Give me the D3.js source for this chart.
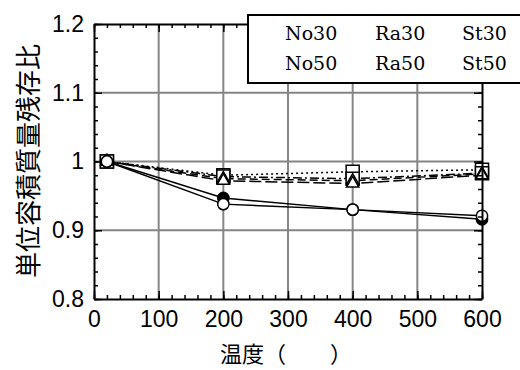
<!DOCTYPE html>
<html>
<head>
<meta charset="utf-8">
<script src="https://cdn.jsdelivr.net/npm/d3@7"></script>
<style>body{margin:0;background:#fff}</style>
</head>
<body>
<svg id="chart"></svg>
<script>
// temperature (C) and residual ratio per mix
var temps = [20, 200, 400, 600];
var no30 = [1, 0.938, 0.930, 0.921];
var no50 = [1, 0.947, 0.930, 0.916];
var ra30 = [1, 0.975, 0.972, 0.982];
var ra50 = [1, 0.972, 0.968, 0.980];
var st30 = [1, 0.980, 0.985, 0.988];
var st50 = [1, 0.978, 0.975, 0.983];
var legendRow1 = ["No30", "Ra30", "St30"];
var legendRow2 = ["No50", "Ra50", "St50"];
var xTicks = [0, 100, 200, 300, 400, 500, 600];
var yTicks = [0.8, 0.9, 1, 1.1, 1.2];

function drawChart() {
    var W = 520, H = 370;
    var left = 94, right = 482, mTop = 24, bottom = 299;

    var svg = d3.select("#chart").attr("width", W).attr("height", H);

    var x = d3.scaleLinear().domain([0, 600]).range([left, right]);
    var y = d3.scaleLinear().domain([0.8, 1.2]).range([bottom, mTop]);

    // grid
    var grid = svg.append("g").attr("stroke", "#858585").attr("stroke-width", 2);
    grid.selectAll(".gx").data(xTicks.slice(1, -1)).enter().append("line")
        .attr("x1", function(d) { return x(d); }).attr("x2", function(d) { return x(d); })
        .attr("y1", mTop).attr("y2", bottom);
    grid.selectAll(".gy").data(yTicks.slice(1, -1)).enter().append("line")
        .attr("y1", function(d) { return y(d); }).attr("y2", function(d) { return y(d); })
        .attr("x1", left).attr("x2", right);

    var series = [
        {name: "St30", vals: st30, dash: "2,3", sym: d3.symbolSquare, size: 170, fill: "#fff"},
        {name: "St50", vals: st50, dash: "9,3,2,3", sym: d3.symbolSquare, size: 170, fill: "#fff"},
        {name: "Ra30", vals: ra30, dash: "8,4", sym: d3.symbolTriangle, size: 65, fill: "#fff"},
        {name: "Ra50", vals: ra50, dash: "12,4", sym: d3.symbolTriangle, size: 65, fill: "#fff"},
        {name: "No50", vals: no50, dash: null, sym: d3.symbolCircle, size: 100, fill: "#000"},
        {name: "No30", vals: no30, dash: null, sym: d3.symbolCircle, size: 100, fill: "#fff"}
    ];

    var line = d3.line()
        .x(function(d, i) { return x(temps[i]); })
        .y(function(d) { return y(d); });

    series.forEach(function(s) {
        svg.append("path")
            .attr("d", line(s.vals))
            .attr("fill", "none")
            .attr("stroke", "#000")
            .attr("stroke-width", 1.5)
            .attr("stroke-dasharray", s.dash);
    });
    series.forEach(function(s) {
        svg.selectAll(".m" + s.name).data(s.vals).enter().append("path")
            .attr("d", d3.symbol().type(s.sym).size(s.size))
            .attr("transform", function(d, i) { return "translate(" + x(temps[i]) + "," + y(d) + ")"; })
            .attr("fill", s.fill)
            .attr("stroke", "#000")
            .attr("stroke-width", 1.5);
    });

    // axes, ticks pointing inward
    function styleAxis(g) {
        g.select(".domain").attr("stroke-width", 2);
        g.selectAll(".tick line").attr("stroke-width", 1.5);
        g.selectAll("text").attr("font-family", "'Liberation Sans', Arial, sans-serif")
            .attr("font-size", 23).attr("fill", "#000");
    }
    function minor(axisFn, scale, vals, pos) {
        var g = svg.append("g").attr("transform", pos)
            .call(axisFn(scale).tickValues(vals).tickSize(-4).tickFormat(""));
        g.select(".domain").remove();
        g.selectAll(".tick line").attr("stroke-width", 1.5);
    }
    var xMinor = d3.range(0, 601, 20);
    var yMinor = d3.range(0, 21).map(function(i) { return 0.8 + i * 0.02; });

    minor(d3.axisBottom, x, xMinor, "translate(0," + bottom + ")");
    minor(d3.axisTop, x, xMinor, "translate(0," + mTop + ")");
    minor(d3.axisLeft, y, yMinor, "translate(" + left + ",0)");
    minor(d3.axisRight, y, yMinor, "translate(" + right + ",0)");

    svg.append("g").attr("transform", "translate(0," + bottom + ")")
        .call(d3.axisBottom(x).tickValues(xTicks).tickSize(-8).tickSizeOuter(0).tickPadding(12))
        .call(styleAxis);
    svg.append("g").attr("transform", "translate(0," + mTop + ")")
        .call(d3.axisTop(x).tickValues(xTicks).tickSize(-8).tickSizeOuter(0).tickFormat(""))
        .call(styleAxis);
    svg.append("g").attr("transform", "translate(" + left + ",0)")
        .call(d3.axisLeft(y).tickValues(yTicks).tickSize(-8).tickSizeOuter(0).tickPadding(10).tickFormat(d3.format("")))
        .call(styleAxis);
    svg.append("g").attr("transform", "translate(" + right + ",0)")
        .call(d3.axisRight(y).tickValues(yTicks).tickSize(-8).tickSizeOuter(0).tickFormat(""))
        .call(styleAxis);

    // legend box (labels only)
    var lg = svg.append("g");
    lg.append("rect").attr("x", 248).attr("y", 15).attr("width", 290).attr("height", 68)
        .attr("fill", "#fff").attr("stroke", "#000").attr("stroke-width", 2);
    var colX = [285, 375, 462];
    [legendRow1, legendRow2].forEach(function(row, r) {
        lg.selectAll(".r" + r).data(row).enter().append("text")
            .attr("x", function(d, i) { return colX[i]; })
            .attr("y", 40 + r * 30)
            .attr("font-family", "'DejaVu Serif', serif")
            .attr("font-size", 19)
            .text(function(d) { return d; });
    });

    // axis titles
    svg.append("text")
        .attr("transform", "translate(38," + 161 + ") rotate(-90)")
        .attr("text-anchor", "middle")
        .attr("font-family", "'Noto Sans CJK JP', sans-serif")
        .attr("font-size", 26)
        .text("単位容積質量残存比");
    svg.append("text")
        .attr("x", 220).attr("y", 362)
        .attr("font-family", "'Noto Sans CJK JP', sans-serif")
        .attr("font-size", 22)
        .text("温度（　　）");
}
drawChart();
</script>
</body>
</html>
